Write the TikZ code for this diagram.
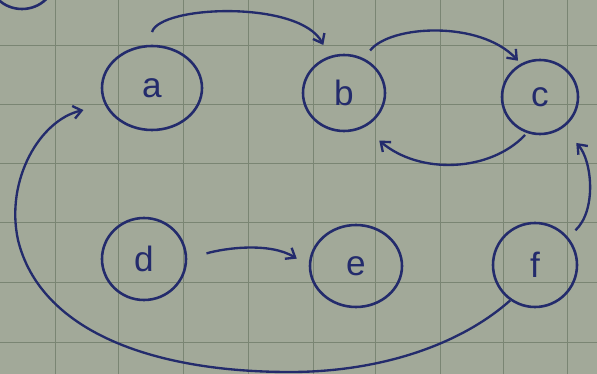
\documentclass[tikz,border=0pt]{standalone}
\usepackage{fontspec}
\setmainfont{Liberation Sans}
\usetikzlibrary{shapes.geometric,arrows.meta}
\definecolor{paper}{HTML}{A2A999}
\definecolor{gridc}{HTML}{7A8573}
\definecolor{ink}{HTML}{232B6C}
\begin{document}
\begin{tikzpicture}[x=0.03cm,y=-0.03cm,
  vert/.style={draw=ink,line width=2.2pt,ellipse,inner sep=0pt,text=ink,
    font=\fontsize{30}{34}\selectfont},
  edge/.style={draw=ink,line width=2pt,-{Straight Barb[length=7pt,width=11pt,line width=2pt]}}]
\useasboundingbox (0,0) rectangle (597,374);
\fill[paper] (0,0) rectangle (597,374);
\foreach \x in {55,118,183,248,313,375,440,503,567}
  \draw[gridc,line width=0.8pt] (\x,0) -- (\x,374);
\foreach \y in {45,104,163,222,282,342}
  \draw[gridc,line width=0.8pt] (0,\y) -- (597,\y);
\begin{scope}
\clip (0,0) rectangle (597,374);
\draw[ink,line width=2.2pt] (22,-22) ellipse [x radius=33, y radius=31];
\end{scope}
\node[vert,minimum width=3cm,minimum height=2.52cm] (a) at (152,88) {a};
\node[vert,minimum width=2.46cm,minimum height=2.28cm] (b) at (344,93) {b};
\node[vert,minimum width=2.28cm,minimum height=2.22cm] (c) at (540,97) {c};
\node[vert,minimum width=2.52cm,minimum height=2.46cm] (d) at (144,259) {d};
\node[vert,minimum width=2.76cm,minimum height=2.46cm] (e) at (356,266) {e};
\node[vert,minimum width=2.52cm,minimum height=2.52cm] (f) at (535,265) {f};
% a -> b
\draw[edge,shorten <=0.4cm,shorten >=0.38cm] (a.95) .. controls (160,5) and (300,0) .. (b.112);
% b -> c
\draw[edge,shorten <=0.3cm,shorten >=0.12cm] (b.60) .. controls (390,25) and (480,20) .. (c.120);
% c -> b
\draw[edge,shorten <=0.08cm,shorten >=0.6cm] (c.250) .. controls (490,172) and (420,175) .. (b.300);
% d -> e
\draw[edge,shorten <=0.6cm,shorten >=0.42cm] (d.east) .. controls (225,248) and (270,242) .. (e.west);
% f -> c
\draw[edge,shorten <=0.3cm,shorten >=0.6cm] (f.40) .. controls (597,210) and (592,160) .. (c.306);
% f -> a
\draw[edge,shorten >=0.66cm] (f.235) .. controls (460,345) and (380,372) .. (290,372)
  .. controls (150,372) and (40,330) .. (18,240)
  .. controls (5,180) and (40,120) .. (a.200);
\end{tikzpicture}
\end{document}
